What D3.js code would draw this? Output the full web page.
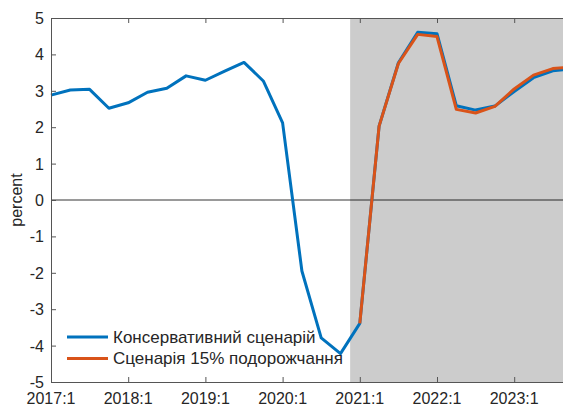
<!DOCTYPE html>
<html>
<head>
<meta charset="utf-8">
<script src="https://cdn.jsdelivr.net/npm/d3@7"></script>
<style>
  body { margin: 0; background: #fff; }
  svg { display: block; overflow: hidden; }
  text { font-family: "Liberation Sans", Arial, sans-serif; fill: #262626; }
</style>
</head>
<body>
<svg id="chart"></svg>
<script>
// chart.js — GDP growth scenarios, quarterly, percent

const W = 563, H = 406;

// quarter index 0 = 2017:1
const baseQuarters = d3.range(0, 28);
const baseValues = [2.88, 3.02, 3.04, 2.52, 2.67, 2.96, 3.07, 3.41,
                    3.29, 3.54, 3.78, 3.27, 2.12, -1.95, -3.79, -4.22,
                    -3.39, 2.03, 3.77, 4.61, 4.57, 2.59, 2.47, 2.58,
                    2.98, 3.36, 3.55, 3.60];

const altQuarters = d3.range(16, 28);
const altValues = [-3.39, 2.03, 3.75, 4.55, 4.49, 2.49, 2.39, 2.57,
                   3.05, 3.43, 3.61, 3.66];

const tickQuarters = [0, 4, 8, 12, 16, 20, 24];
const tickLabels = ['2017:1', '2018:1', '2019:1', '2020:1', '2021:1', '2022:1', '2023:1'];
const yTicks = [5, 4, 3, 2, 1, 0, -1, -2, -3, -4, -5];
const shadeFrom = 15.5;

const seriesNames = ['Консервативний сценарій', 'Сценарія 15% подорожчання'];
const seriesColors = ['#0072BD', '#D95319'];

const margin = { left: 51, top: 18, bottom: 24 };
const plotBottom = H - margin.bottom;

const x = d3.scaleLinear().domain([0, 27]).range([margin.left, margin.left + 27 * 19.3]);
const y = d3.scaleLinear().domain([-5, 5]).range([plotBottom, margin.top]);

const svg = d3.select('#chart').attr('width', W).attr('height', H);

// forecast shading
svg.append('rect')
  .attr('x', x(shadeFrom)).attr('y', y(5))
  .attr('width', x(27) - x(shadeFrom)).attr('height', y(-5) - y(5))
  .attr('fill', '#cccccc');

// zero line
svg.append('line')
  .attr('x1', x(0)).attr('x2', x(27))
  .attr('y1', y(0)).attr('y2', y(0))
  .attr('stroke', '#000').attr('stroke-width', 0.8);

// lines
const line = d3.line().x(d => x(d[0])).y(d => y(d[1]));
const series = [
  d3.zip(baseQuarters, baseValues),
  d3.zip(altQuarters, altValues)
];
series.forEach((s, i) => {
  svg.append('path')
    .datum(s)
    .attr('d', line)
    .attr('fill', 'none')
    .attr('stroke', seriesColors[i])
    .attr('stroke-width', 3)
    .attr('stroke-linejoin', 'round');
});

// axes (ticks pointing inward)
const xAxisBottom = d3.axisTop(x).tickValues(tickQuarters).tickSize(5).tickFormat('');
const xAxisTop = d3.axisBottom(x).tickValues(tickQuarters).tickSize(5).tickFormat('');
const yAxis = d3.axisRight(y).tickValues(yTicks).tickSize(5).tickFormat('');

const gb = svg.append('g').attr('transform', `translate(0,${plotBottom})`).call(xAxisBottom);
const gt = svg.append('g').attr('transform', `translate(0,${margin.top})`).call(xAxisTop);
const gl = svg.append('g').attr('transform', `translate(${margin.left},0)`).call(yAxis);
[gb, gt, gl].forEach(g => {
  g.selectAll('path.domain').attr('stroke', '#555');
  g.selectAll('.tick line').attr('stroke', '#555');
});

// tick labels
svg.append('g').selectAll('text')
  .data(tickQuarters)
  .join('text')
  .attr('x', d => x(d))
  .attr('y', 404)
  .attr('text-anchor', 'middle')
  .attr('font-size', 16)
  .text((d, i) => tickLabels[i]);

svg.append('g').selectAll('text')
  .data(yTicks)
  .join('text')
  .attr('x', 44)
  .attr('y', d => y(d))
  .attr('dy', '0.38em')
  .attr('text-anchor', 'end')
  .attr('font-size', 16)
  .text(d => d);

svg.append('text')
  .attr('transform', `translate(22,${y(0)}) rotate(-90)`)
  .attr('text-anchor', 'middle')
  .attr('font-size', 16)
  .text('percent');

// legend
const legend = svg.append('g').attr('transform', 'translate(67,337)');
seriesNames.forEach((name, i) => {
  const row = legend.append('g').attr('transform', `translate(0,${i * 21.5})`);
  row.append('line')
    .attr('x1', 0).attr('x2', 41)
    .attr('stroke', seriesColors[i]).attr('stroke-width', 3);
  row.append('text')
    .attr('x', 46).attr('dy', '0.35em')
    .attr('font-size', 17)
    .text(name);
});
</script>
</body>
</html>
